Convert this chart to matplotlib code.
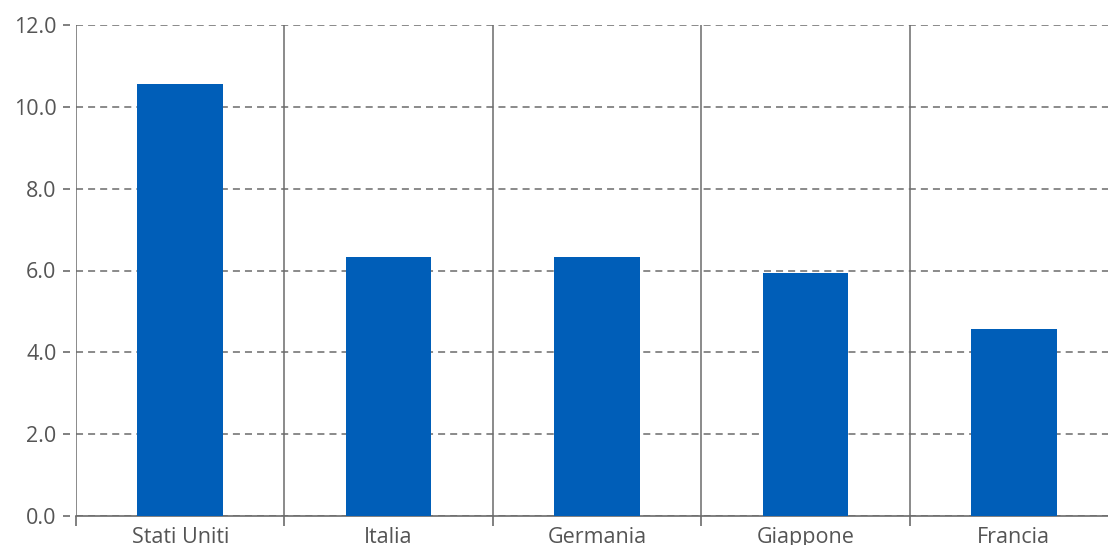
import numpy as np
import matplotlib
matplotlib.use("Agg")
import matplotlib.pyplot as plt

paesi = ["Stati Uniti", "Italia", "Germania", "Giappone", "Francia"]
valori = [10.56, 6.33, 6.33, 5.94, 4.57]
y_ticks = [0, 2, 4, 6, 8, 10, 12]

plt.rcParams['font.family'] = ['Open Sans', 'DejaVu Sans']

fig = plt.figure(figsize=(11.08, 5.45), dpi=100)
W, H = 1108, 545
ax = fig.add_axes([76 / W, 1 - 516 / H, (1108 - 76) / W, (516 - 25) / H])

x = np.arange(len(paesi))
ax.bar(x, valori, width=0.41, color='#005eb8', zorder=3)

grey = '#6b6b6b'
ax.set_yticks(y_ticks)
ax.set_yticklabels([f"{v:.1f}" for v in y_ticks])
ax.set_xticks(x)
ax.set_xticklabels(paesi)
ax.set_xticks(np.arange(len(paesi) + 1) - 0.5, minor=True)
ax.set_ylim(0, 12)
ax.set_xlim(-0.5, len(paesi) - 0.5 - 10 / 208.5)

ax.tick_params(axis='y', length=5, width=1.2, color=grey, labelcolor='#555555',
               labelsize=15.5, pad=5)
ax.tick_params(axis='x', which='major', length=0, labelcolor='#555555',
               labelsize=15.5, pad=8)
ax.tick_params(axis='x', which='minor', length=7, width=1.2, color=grey)

ax.grid(axis='y', linestyle=(0, (4.6, 3.3)), color=grey, linewidth=1.1, zorder=0)
ax.grid(axis='x', which='minor', linestyle='-', color=grey, linewidth=1.1, zorder=1)

for s in ['top', 'right']:
    ax.spines[s].set_visible(False)
ax.spines['left'].set_visible(False)
ax.spines['left'].set_position(('outward', 4))
ax.spines['bottom'].set_color(grey)
ax.spines['bottom'].set_linewidth(1.2)

fig.savefig("out.png", dpi=100)
